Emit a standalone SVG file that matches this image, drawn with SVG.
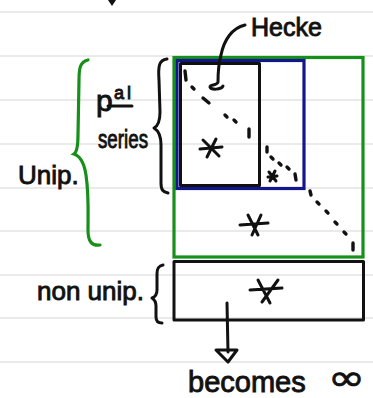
<svg xmlns="http://www.w3.org/2000/svg" width="373" height="398" viewBox="0 0 373 398">
<style>
.rule{stroke:#e3e3e3;stroke-width:1.5}
.ink{fill:none;stroke:#111;stroke-width:3;stroke-linecap:round;stroke-linejoin:round}
.grn{fill:none;stroke:#16901a;stroke-width:3.2;stroke-linecap:round}
.blu{fill:none;stroke:#14168c;stroke-width:3.2}
.dash{stroke:#111;stroke-width:3.4;stroke-linecap:round}
.txt{font-family:"Liberation Sans",Arial,sans-serif;fill:#111;stroke:#111;stroke-width:0.9}
</style>
<rect width="373" height="398" fill="#fff"/>
<g id="rules">
<line class="rule" x1="0" y1="12" x2="373" y2="12"/>
<line class="rule" x1="0" y1="56" x2="373" y2="56"/>
<line class="rule" x1="0" y1="100" x2="373" y2="100"/>
<line class="rule" x1="0" y1="144" x2="373" y2="144"/>
<line class="rule" x1="0" y1="188" x2="373" y2="188"/>
<line class="rule" x1="0" y1="231" x2="373" y2="231"/>
<line class="rule" x1="0" y1="275" x2="373" y2="275"/>
<line class="rule" x1="0" y1="318" x2="373" y2="318"/>
<line class="rule" x1="0" y1="362" x2="373" y2="362"/>
</g>
<path d="M108,0 L116,0 L112,6 Z" fill="#111"/>
<g id="unipotent">
<rect class="grn" x="174" y="57.5" width="189" height="199.5"/>
<text class="txt" x="18" y="184" font-size="26">Unip.</text>
<path class="grn" d="M88,60 C80,62 79,68 79,80 L78,135 C78,147 77,152 74,154 C80,156 84,162 86,175 C89,195 88,215 88,230 C88,242 92,246 100,245"/>
</g>
<g id="principal-series">
<rect class="blu" x="177" y="60.5" width="127" height="128"/>
<path class="ink" d="M167,59 C159,60 158,66 159,80 L160,112 C160,122 158,126 154,128 C159,131 161,136 161,145 L161,183 C161,190 163,192 168,193"/>
<text class="txt" x="96" y="111" font-size="30">p</text>
<text class="txt" x="114" y="99" font-size="18" letter-spacing="3">al</text>
<line class="ink" x1="108" y1="106" x2="132" y2="106"/>
<text class="txt" x="98" y="148" font-size="26" textLength="50" lengthAdjust="spacingAndGlyphs">series</text>
</g>
<g id="hecke-block">
<rect class="ink" x="180.5" y="63.5" width="79" height="122" stroke-width="3.2"/>
</g>
<g id="hecke-label">
<text class="txt" x="251" y="36" font-size="25">Hecke</text>
</g>
<g id="non-unipotent">
<rect class="ink" x="174" y="261.5" width="189.5" height="58.5" stroke-width="3.2"/>
<text class="txt" x="37" y="300" font-size="26">non unip.</text>
<path class="ink" d="M163,265 C158,266 157,269 157,274 L157,290 C157,295 155,297 152,298 C155,300 156,302 156,306 L156,317 C156,321 158,323 162,323"/>
</g>
<g id="becomes-label">
<text class="txt" x="188" y="392" font-size="29">becomes</text>
<text x="328" y="389.5" font-family="DejaVu Sans,sans-serif" font-size="36" textLength="37" lengthAdjust="spacingAndGlyphs" fill="#111" stroke="#111" stroke-width="0.8">∞</text>
</g>
<g id="entries">
<path class="ink" d="M200,149 L222,147 M203,140 L219,156 M216,139 L207,157"/>
<path class="ink" stroke-width="2.5" d="M268,177 L277,176 M269,172 L276,181 M275,171 L270,181"/>
<path class="ink" d="M240,225 L268,223 M248,215 L258,235 M261,215 L252,235"/>
<path class="ink" d="M250,290 L282,288 M258,280 L270,303 M278,280 L262,302"/>
<path class="dash" d="M185,71 L186,80 M192,87 L194,89 M203,98 L209,103 M225,115 L227,117 M234,120 L236,122 M249,129 L249,137 M267,147 L267,152 M271,157 L273,159 M279,163 L281,165 M287,167 L289,169 M295,174 L296,180 M310,191 L311,195 M317,202 L319,204 M326,211 L328,213 M335,222 L337,224 M344,232 L346,234 M353,243 L353,250"/>
</g>
<g id="connectors">
<path class="ink" d="M245,25 C232,28 224,40 221,55 C218,66 218,74 218,82 C217,86 210,84 210,87 C211,90 221,90 223,86"/>
<path class="ink" d="M227,303 L228,352"/>
<path class="ink" d="M216,350 L237,350 L228,362 Z"/>
</g>
</svg>
